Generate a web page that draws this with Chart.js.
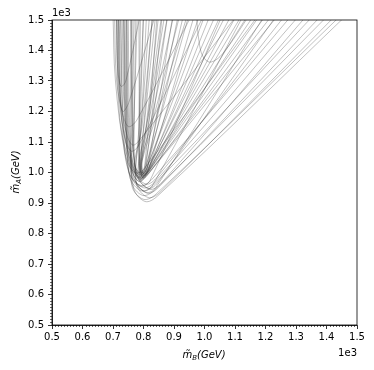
<!DOCTYPE html>
<html><head><meta charset="utf-8">
<script src="https://cdn.jsdelivr.net/npm/chart.js@4/dist/chart.umd.min.js"></script>
<style>html,body{margin:0;padding:0;background:#fff}#wrap{width:374px;height:370px;position:relative}</style>
</head><body><div id="wrap"><canvas id="c" width="374" height="370"></canvas></div>
<script>
const xTickLabels = ['0.5','0.6','0.7','0.8','0.9','1.0','1.1','1.2','1.3','1.4','1.5'];
const yTickLabels = ['0.5','0.6','0.7','0.8','0.9','1.0','1.1','1.2','1.3','1.4','1.5'];
const offsetText = '1e3';

// each contour, x (GeV) and y (GeV)
const curveX = [
[760,758,767,805,845,1470],
[780,768,762,800,842,1452],
[800,785,777,815,855,1435],
[735,742,759,797,838,1410],
[820,792,774,812,850,1388],
[745,746,755,793,832,1362],
[850,808,782,820,858,1340],
[770,762,762,800,838,1315],
[725,734,752,790,828,1290],
[830,795,770,808,845,1268],
[790,786,785,792,815,1245],
[725,733,761,786,810,1225],
[860,814,793,798,820,1205],
[765,766,772,790,812,1185],
[712,722,759,784,808,1165],
[880,820,791,796,818,1145],
[810,794,786,792,812,1125],
[740,745,764,789,810,1108],
[900,827,795,800,820,1090],
[730,738,761,786,806,1072],
[840,805,789,794,814,1055],
[775,770,772,790,810,1038],
[920,833,792,797,816,1020],
[718,728,762,787,806,1003],
[800,790,786,792,810,985],
[945,841,796,801,818,968],
[750,754,765,784,803,950],
[870,815,790,795,812,932],
[760,762,770,790,808,915],
[830,803,792,798,814,897],
[735,740,762,787,804,880],
[785,786,786,793,808,862],
[745,748,764,789,804,845],
[712,720,740,760,785,1000],
[718,724,745,765,790,1110],
[705,712,735,752,780,960],
[711,713,720,728,742,790],
[716,719,726,734,752,840],
[973,982,995,1020,1060,1150],
[700,708,740,770,800,1180],
[745,752,770,808,840,1200],
[736,744,762,800,830,1130],
[758,764,777,815,845,1240],
[720,730,752,790,822,1060]
];
const curveY = [
[1520,1150,950,905,922,1520],
[1520,1150,957,912,930,1520],
[1520,1150,963,918,936,1520],
[1520,1150,970,925,944,1520],
[1520,1150,977,932,952,1520],
[1520,1150,985,940,958,1520],
[1520,1150,990,945,965,1520],
[1520,1150,995,950,970,1520],
[1520,1150,1003,958,978,1520],
[1520,1150,1007,962,985,1520],
[1520,1180,1020,975,995,1520],
[1520,1180,1010,970,990,1520],
[1520,1180,1027,982,1000,1520],
[1520,1180,1020,978,996,1520],
[1520,1180,1012,972,992,1520],
[1520,1180,1030,985,1005,1520],
[1520,1180,1027,982,1000,1520],
[1520,1180,1020,980,998,1520],
[1520,1180,1035,990,1010,1520],
[1520,1180,1018,978,996,1520],
[1520,1180,1031,986,1005,1520],
[1520,1180,1026,984,1003,1520],
[1520,1180,1035,990,1010,1520],
[1520,1180,1023,983,1004,1520],
[1520,1180,1035,990,1010,1520],
[1520,1180,1040,995,1015,1520],
[1520,1180,1028,985,1005,1520],
[1520,1180,1038,993,1015,1520],
[1520,1180,1034,992,1014,1520],
[1520,1180,1043,998,1020,1520],
[1520,1180,1032,992,1015,1520],
[1520,1180,1043,998,1022,1520],
[1520,1180,1038,998,1022,1520],
[1520,1250,1110,1070,1090,1520],
[1520,1250,1125,1090,1110,1520],
[1520,1300,1180,1150,1175,1520],
[1520,1380,1300,1282,1300,1520],
[1520,1320,1215,1200,1230,1520],
[1520,1430,1380,1362,1390,1520],
[1520,1300,1060,1000,1010,1520],
[1520,1150,980,935,950,1520],
[1520,1150,985,940,958,1520],
[1520,1150,993,948,965,1520],
[1520,1150,1000,955,975,1520]
];

const datasets = curveX.map((xs, k) => ({
  data: xs.map((x, i) => ({x: x, y: curveY[k][i]})),
  showLine: true,
  borderColor: 'rgba(40,40,40,0.36)',
  borderWidth: 0.8,
  pointRadius: 0,
  tension: 0.35,
  fill: false
}));

const FONT = 'DejaVu Sans';

const decor = {
  id: 'decor',
  afterDraw(chart) {
    const ctx = chart.ctx;
    const a = chart.chartArea;
    const xs = chart.scales.x, ys = chart.scales.y;
    ctx.save();
    ctx.strokeStyle = '#000';
    ctx.lineWidth = 0.8;
    ctx.strokeRect(a.left, a.top, a.right - a.left, a.bottom - a.top);
    ctx.lineWidth = 0.6;
    ctx.beginPath();
    for (let v = 500; v <= 1500; v += 10) {
      if (v % 100 === 0) continue;
      const px = Math.round(xs.getPixelForValue(v)) + 0.5;
      ctx.moveTo(px, a.bottom); ctx.lineTo(px, a.bottom + 2);
      const py = Math.round(ys.getPixelForValue(v)) + 0.5;
      ctx.moveTo(a.left, py); ctx.lineTo(a.left - 2, py);
    }
    ctx.stroke();
    ctx.fillStyle = '#000';
    ctx.font = '10px "' + FONT + '"';
    ctx.textBaseline = 'middle';
    ctx.textAlign = 'left';
    ctx.fillText(offsetText, a.left, 13);
    ctx.textAlign = 'right';
    ctx.fillText(offsetText, a.right, 353);
    function title(sub, cx, cy, rot) {
      ctx.save();
      ctx.translate(cx, cy);
      if (rot) ctx.rotate(-Math.PI / 2);
      const f1 = 'italic 10px "' + FONT + '"';
      const f2 = 'italic 7px "' + FONT + '"';
      ctx.font = f1; const w1 = ctx.measureText('m\u0303').width;
      ctx.font = f2; const w2 = ctx.measureText(sub).width;
      ctx.font = f1; const w3 = ctx.measureText('(GeV)').width;
      let x = -(w1 + w2 + w3) / 2;
      ctx.textAlign = 'left';
      ctx.textBaseline = 'alphabetic';
      ctx.font = f1; ctx.fillText('m\u0303', x, 4); x += w1;
      ctx.font = f2; ctx.fillText(sub, x, 6); x += w2;
      ctx.font = f1; ctx.fillText('(GeV)', x, 4);
      ctx.restore();
    }
    title('B', 204, 354, false);
    title('A', 15, 172, true);
    ctx.restore();
  }
};

new Chart(document.getElementById('c'), {
  type: 'scatter',
  data: { datasets: datasets },
  options: {
    responsive: false,
    animation: false,
    devicePixelRatio: 1,
    layout: { padding: { top: 20, right: 17, left: 0, bottom: 0 } },
    plugins: { legend: { display: false }, tooltip: { enabled: false } },
    scales: {
      x: {
        type: 'linear', min: 500, max: 1500,
        afterFit: s => { s.height = 45; },
        ticks: {
          stepSize: 100, autoSkip: false, maxRotation: 0, padding: 2,
          color: '#000', font: { family: FONT, size: 10 },
          callback: (v, i) => xTickLabels[i]
        },
        grid: { drawOnChartArea: false, drawTicks: true, tickLength: 4, color: '#000', lineWidth: 0.8 },
        border: { display: true, color: '#000', width: 0.8 }
      },
      y: {
        type: 'linear', min: 500, max: 1500,
        afterFit: s => { s.width = 52; },
        ticks: {
          stepSize: 100, autoSkip: false, padding: 4,
          color: '#000', font: { family: FONT, size: 10 },
          callback: (v, i) => yTickLabels[i]
        },
        grid: { drawOnChartArea: false, drawTicks: true, tickLength: 4, color: '#000', lineWidth: 0.8 },
        border: { display: true, color: '#000', width: 0.8 }
      }
    }
  },
  plugins: [decor]
});
</script></body></html>
